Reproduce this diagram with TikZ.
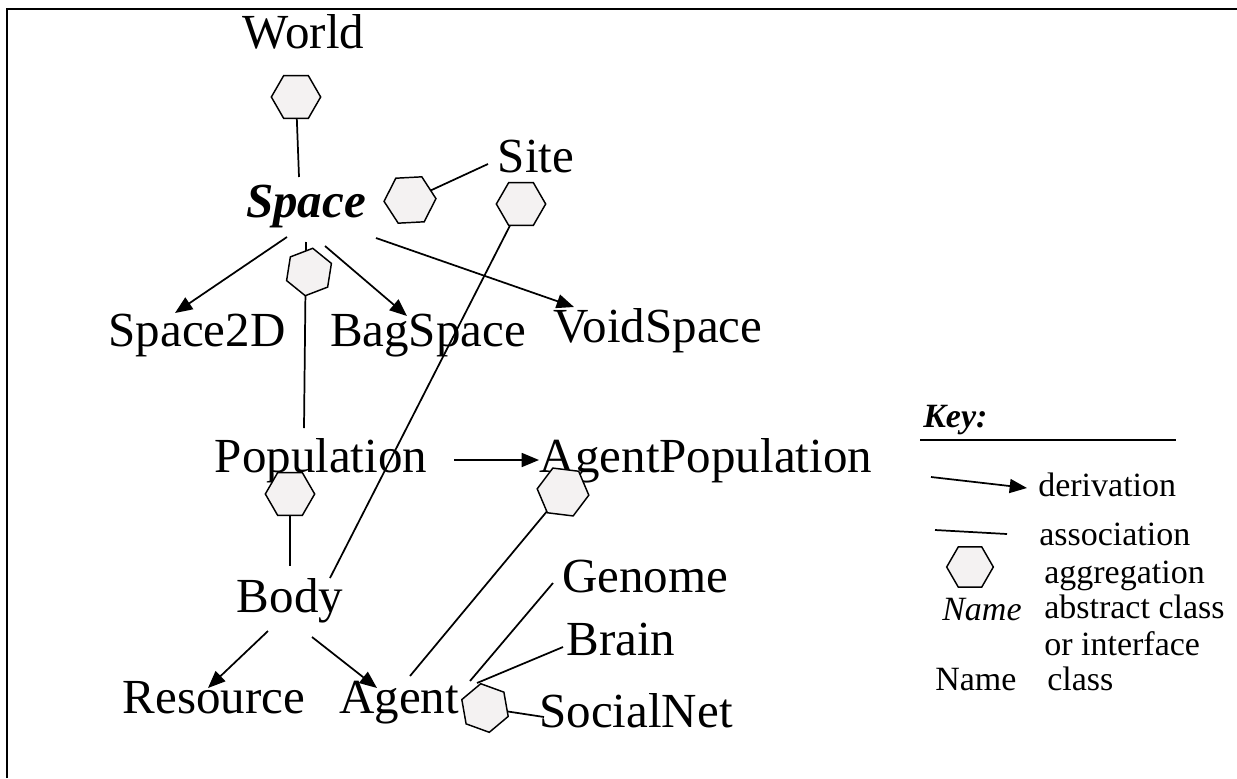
\documentclass[tikz,border=0pt]{standalone}
\usepackage{fontspec}
\setmainfont{Liberation Serif}
\usetikzlibrary{arrows.meta,shapes.geometric}
\pgfdeclarelayer{bg}
\pgfsetlayers{bg,main}
\definecolor{hexfill}{RGB}{244,242,242}
\tikzset{
  txt/.style={inner sep=0pt, anchor=base, font=\fontsize{36.75}{44}\selectfont},
  keytxt/.style={inner sep=0pt, anchor=base west, font=\fontsize{25.5}{30}\selectfont},
  hexa/.style={regular polygon, regular polygon sides=6, minimum size=37, inner sep=0pt,
    draw, fill=hexfill, line width=1.1pt},
  conn/.style={line width=1.3pt},
  deriv/.style={conn, -{Triangle[length=13pt,width=10.5pt]}},
  border/.style={line width=2pt}
}
\begin{document}
\begin{tikzpicture}[x=0.75pt,y=-0.75pt]
\useasboundingbox (0,0) rectangle (1237,778);
\draw[border] (7,778) -- (7,9) -- (1237,9);

% class names
\node[txt] (world) at (303.5,48) {World};
\node[txt, font=\fontsize{36.75}{44}\selectfont\bfseries\itshape] (space) at (306,217) {Space};
\node[txt] (site) at (536,172) {Site};
\node[txt] (space2d) at (197,346) {Space2D};
\node[txt] (bagspace) at (428,346) {BagSpace};
\node[txt] (voidspace) at (658,342) {VoidSpace};
\node[txt] (pop) at (321,472) {Population};
\node[txt] (agpop) at (706,472) {AgentPopulation};
\node[txt] (body) at (290,612) {Body};
\node[txt] (genome) at (645,592) {Genome};
\node[txt] (brain) at (621,655) {Brain};
\node[txt] (resource) at (214,713) {Resource};
\node[txt] (agent) at (399,713) {Agent};
\node[txt] (socialnet) at (636,727) {SocialNet};

% aggregation hexagons
\node[hexa] (hW) at (296,97) {};
\node[hexa, minimum size=39, shape border rotate=3] (hS) at (410,200) {};
\node[hexa] (hSite) at (521,204) {};
\node[hexa, minimum size=36, shape border rotate=21] (hSp) at (309,272) {};
\node[hexa] (hPop) at (290,494) {};
\node[hexa, minimum size=39, shape border rotate=-7] (hAP) at (563,492) {};
\node[hexa, shape border rotate=40] (hAg) at (485,708) {};

% connector end points
\coordinate (spTop) at (299,177);
\coordinate (siteL) at (488,164);
\coordinate (bodyR) at (330,578);
\coordinate (spSW) at (287,237);
\coordinate (s2dN) at (175,313);
\coordinate (spSE) at (325,246);
\coordinate (bagN) at (407,316);
\coordinate (spE) at (376,238);
\coordinate (voidN) at (574,307);
\coordinate (spS) at (306,242);
\coordinate (popN) at (304,428);
\coordinate (popE) at (454,460);
\coordinate (agpopW) at (539,460);
\coordinate (bodyN) at (290,566);
\coordinate (agNE) at (410,676);
\coordinate (bodySW) at (268,631);
\coordinate (resN) at (208,688);
\coordinate (bodySE) at (312,637);
\coordinate (agN) at (377,688);
\coordinate (agE1) at (470,681);
\coordinate (genW) at (553,583);
\coordinate (agE2) at (477,683);
\coordinate (brainW) at (563,647);
\coordinate (socW) at (544,717);

\begin{pgfonlayer}{bg}
\draw[conn] (hW.center) -- (spTop);
\draw[conn] (hS.center) -- (siteL);
\draw[conn] (hSite.center) -- (bodyR);
\draw[conn] (spS) -- (popN);
\draw[conn] (hPop.center) -- (bodyN);
\draw[conn] (hAP.center) -- (agNE);
\draw[conn] (hAg.center) -- (socW);
\end{pgfonlayer}

\draw[deriv] (spSW) -- (s2dN);
\draw[deriv] (spSE) -- (bagN);
\draw[deriv] (spE) -- (voidN);
\draw[deriv] (popE) -- (agpopW);
\draw[deriv] (bodySW) -- (resN);
\draw[deriv] (bodySE) -- (agN);
\draw[conn] (agE1) -- (genW);
\draw[conn] (agE2) -- (brainW);

% key
\node[keytxt, font=\fontsize{25.5}{30}\selectfont\bfseries\itshape] (keyt) at (923,427) {Key:};
\coordinate (keyL) at (920,440);
\coordinate (keyR) at (1176,440);
\draw[line width=1pt] (keyL) -- (keyR);
\coordinate (dA) at (931,477);
\coordinate (dB) at (1027,488);
\draw[deriv] (dA) -- (dB);
\node[keytxt] (kder) at (1038,496) {derivation};
\coordinate (aA) at (935,530);
\coordinate (aB) at (1007,534);
\draw[conn] (aA) -- (aB);
\node[keytxt] (kass) at (1039,545) {association};
\node[hexa, minimum size=35] (hKey) at (970,567) {};
\node[keytxt] (kagg) at (1044,583) {aggregation};
\node[keytxt, font=\fontsize{25.5}{30}\selectfont\itshape] (kname1) at (942,620) {Name};
\node[keytxt] (kabs) at (1044,618) {abstract class};
\node[keytxt] (kint) at (1044,655) {or interface};
\node[keytxt] (kname2) at (935,690) {Name};
\node[keytxt] (kcls) at (1047,690) {class};
\end{tikzpicture}
\end{document}
